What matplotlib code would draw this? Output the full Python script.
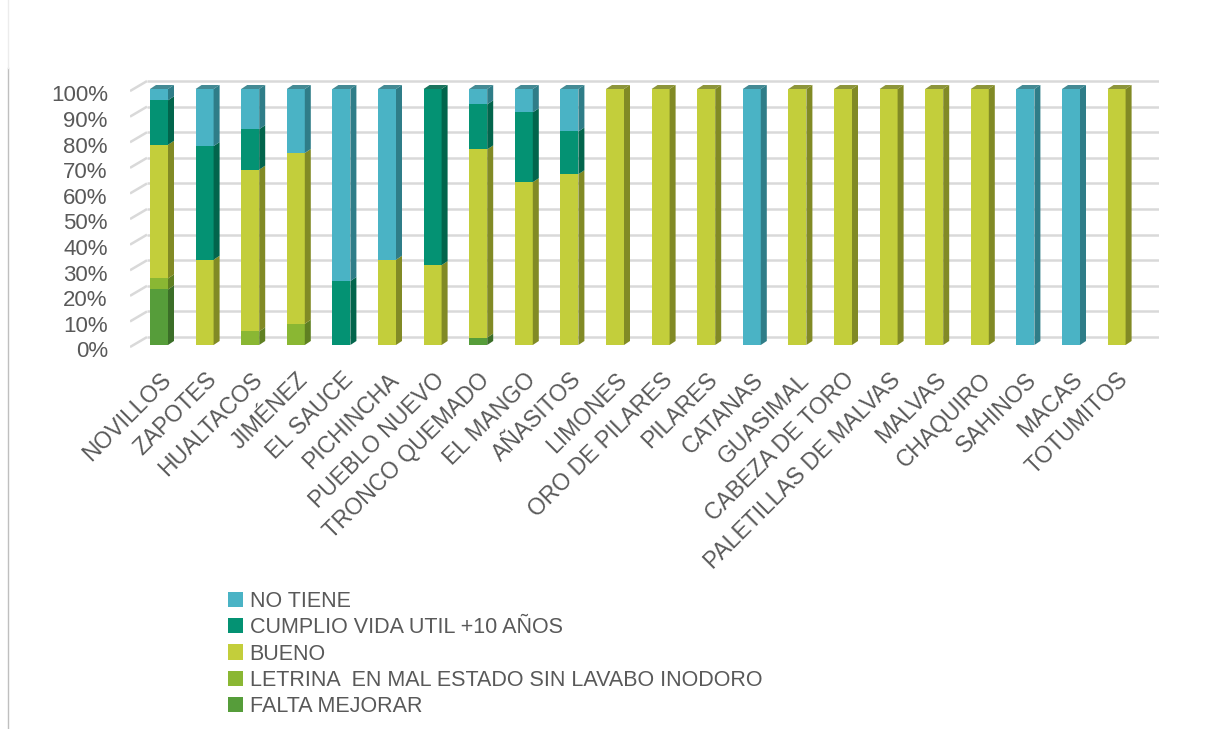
import matplotlib
matplotlib.use("Agg")
import matplotlib.pyplot as plt
from matplotlib.patches import Polygon, Patch
from matplotlib.lines import Line2D
from matplotlib.transforms import ScaledTranslation
import numpy as np

plt.rcParams["font.family"] = ["Liberation Sans", "DejaVu Sans"]

categories = ["NOVILLOS", "ZAPOTES", "HUALTACOS", "JIMÉNEZ", "EL SAUCE", "PICHINCHA",
              "PUEBLO NUEVO", "TRONCO QUEMADO", "EL MANGO", "AÑASITOS", "LIMONES",
              "ORO DE PILARES", "PILARES", "CATANAS", "GUASIMAL", "CABEZA DE TORO",
              "PALETILLAS DE MALVAS", "MALVAS", "CHAQUIRO", "SAHINOS", "MACAS", "TOTUMITOS"]

# percentages per series (bottom to top of the stack)
falta_mejorar = [21.7, 0, 0, 0, 0, 0, 0, 2.9, 0, 0, 0, 0, 0, 0, 0, 0, 0, 0, 0, 0, 0, 0]
letrina = [4.3, 0, 5.3, 8.3, 0, 0, 0, 0, 0, 0, 0, 0, 0, 0, 0, 0, 0, 0, 0, 0, 0, 0]
bueno = [52.2, 33.3, 63.2, 66.7, 0, 33.3, 31.2, 73.5, 63.6, 66.7, 100, 100, 100, 0,
         100, 100, 100, 100, 100, 0, 0, 100]
cumplio = [17.4, 44.4, 15.8, 0, 25, 0, 68.8, 17.6, 27.3, 16.7, 0, 0, 0, 0, 0, 0, 0, 0, 0, 0, 0, 0]
no_tiene = [4.4, 22.3, 15.7, 25, 75, 66.7, 0, 6.0, 9.1, 16.6, 0, 0, 0, 100, 0, 0, 0, 0, 0,
            100, 100, 0]

series = [
    ("FALTA MEJORAR", falta_mejorar, "#569d3a", "#3b6e28"),
    ("LETRINA  EN MAL ESTADO SIN LAVABO INODORO", letrina, "#8ab733", "#5f8022"),
    ("BUENO", bueno, "#c3ce3b", "#818a25"),
    ("CUMPLIO VIDA UTIL +10 AÑOS", cumplio, "#049273", "#02654c"),
    ("NO TIENE", no_tiene, "#4ab3c5", "#2f7d88"),
]

text_color = "#595959"
W, H = 1206, 729
fig = plt.figure(figsize=(W / 100, H / 100), dpi=100)

px_per_pct = 2.56
base_px = 345
ylo, yhi = -2, 104.5
ax_left, ax_right = 130, 1159
ax_top = base_px - yhi * px_per_pct
ax_bot = base_px - ylo * px_per_pct
ax = fig.add_axes([ax_left / W, 1 - ax_bot / H, (ax_right - ax_left) / W, (ax_bot - ax_top) / H])

step = 45.6
xlo = (ax_left - 159) / step
xhi = (ax_right - 159) / step
ax.set_xlim(xlo, xhi)
ax.set_ylim(ylo, yhi)

# gridlines with a little 3D slant on the left
x_slant = (147 - 159) / step
for v in range(0, 101, 10):
    ax.plot([xlo, x_slant], [v - 0.8, v + 3.1], color="#d9d9d9", lw=1.8, zorder=0,
            solid_capstyle="butt")
    ax.plot([x_slant, xhi], [v + 3.1, v + 3.1], color="#d9d9d9", lw=1.8, zorder=0,
            solid_capstyle="butt")

x = np.arange(len(categories))
w = 18 / step
dx = 6 / step
dy = 4 / px_per_pct
bottom = np.zeros(len(categories))
for name, vals, col, side in series:
    vals = np.array(vals, dtype=float)
    ax.bar(x, vals, width=w, bottom=bottom, color=col, zorder=2, linewidth=0)
    for i in range(len(x)):
        if vals[i] <= 0:
            continue
        b, t = bottom[i], bottom[i] + vals[i]
        xr = x[i] + w / 2
        ax.add_patch(Polygon([(xr, b), (xr + dx, b + dy), (xr + dx, t + dy), (xr, t)],
                             closed=True, facecolor=side, edgecolor="none", zorder=2))
    bottom = bottom + vals

# top faces, coloured like the top segment
for i in range(len(x)):
    top_col = None
    for name, vals, col, side in series:
        if vals[i] > 0:
            top_col = side
    t = bottom[i]
    xl = x[i] - w / 2
    xr = x[i] + w / 2
    ax.add_patch(Polygon([(xl, t), (xl + dx, t + dy), (xr + dx, t + dy), (xr, t)],
                         closed=True, facecolor=top_col, edgecolor="none", zorder=2, alpha=0.9))

for s in ax.spines.values():
    s.set_visible(False)

ax.set_yticks(range(0, 101, 10))
ax.set_yticklabels([f"{v}%" for v in range(0, 101, 10)])
ax.tick_params(axis="y", length=0, pad=16, labelsize=16, labelcolor=text_color)
for lab in ax.get_yticklabels():
    lab.set_transform(lab.get_transform() + ScaledTranslation(0, -4.5 / 100, fig.dpi_scale_trans))

ax.set_xticks(x)
ax.set_xticklabels(categories, rotation=45, ha="right", va="top", rotation_mode="anchor")
ax.tick_params(axis="x", length=0, pad=13, labelsize=16.5, labelcolor=text_color)

handles = [Patch(facecolor=col, edgecolor="none") for name, vals, col, side in reversed(series)]
labels = [name for name, vals, col, side in reversed(series)]
fig.legend(handles, labels, loc="upper left", bbox_to_anchor=(228 / W, 1 - 591 / H),
           frameon=False, fontsize=15.5, handlelength=0.7, handleheight=0.7,
           handletextpad=0.3, labelspacing=0.245, borderpad=0, borderaxespad=0,
           labelcolor=text_color)

# chart border fragment at the left edge
fig.add_artist(Line2D([8 / W, 8 / W], [0, 1 - 68 / H], color="#bfbfbf", lw=1))
fig.add_artist(Line2D([8 / W, 8 / W], [1 - 68 / H, 1], color="#ececec", lw=1))

fig.savefig("out.png", dpi=100, facecolor="white")
